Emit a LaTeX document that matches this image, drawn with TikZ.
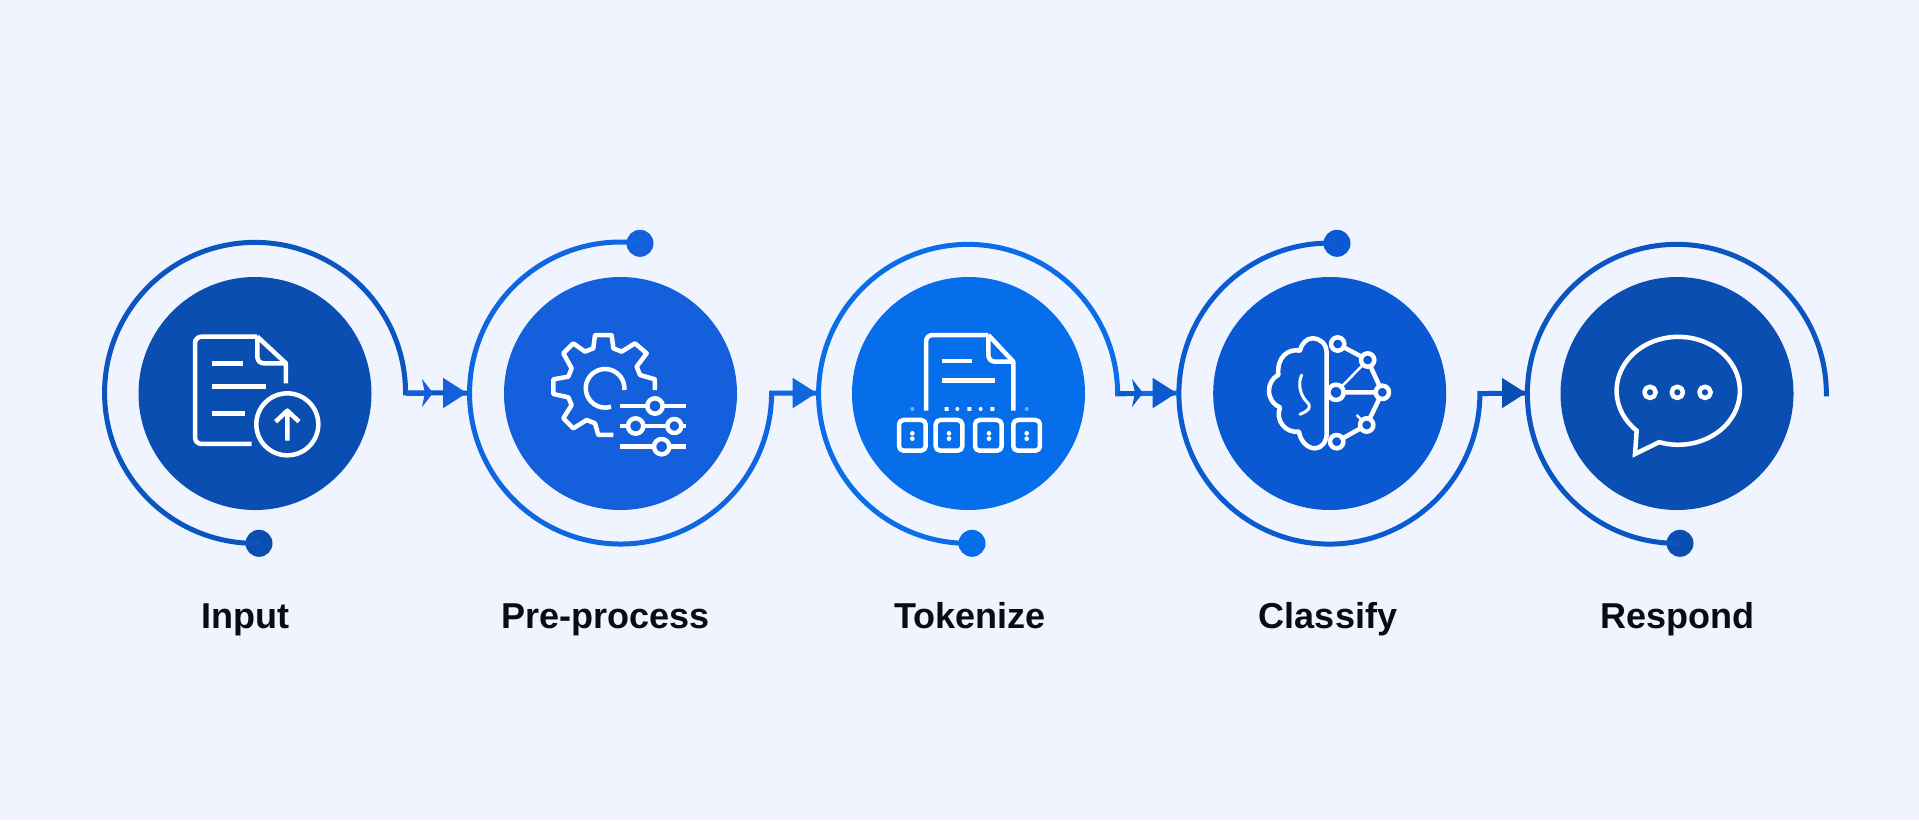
\documentclass[tikz,border=0pt]{standalone}
\usepackage{fontspec}
\setmainfont{Liberation Sans}
\usetikzlibrary{arrows.meta}

\definecolor{pagebg}{HTML}{EFF4FE}
\definecolor{discA}{HTML}{0A4EB2}
\definecolor{discB}{HTML}{1460DC}
\definecolor{discC}{HTML}{066EEA}
\definecolor{discD}{HTML}{0A58D2}
\definecolor{ringA}{HTML}{0B55C0}
\definecolor{ringB}{HTML}{0E66E0}
\definecolor{ringC}{HTML}{0A6EE8}
\definecolor{ringD}{HTML}{0A5AD0}
\definecolor{labelink}{HTML}{080C18}

\tikzset{
    disc/.style={circle, inner sep=0pt, outer sep=0pt, minimum size=233pt},
    knob/.style={circle, inner sep=0pt, outer sep=0pt, minimum size=27pt},
    ring/.style={line width=5pt, line join=miter},
    glyph/.style={draw=white, line width=4.5pt, line join=round},
    steplabel/.style={anchor=base, text=labelink, font=\fontsize{36}{36}\selectfont\bfseries},
    bighead/.style={-{Triangle[length=24pt, width=29pt]}},
    smallhead/.style={-{Stealth[length=11pt, width=28pt, inset=3pt]}},
    zoomed/.style={x=0.3333pt, y=-0.3333pt}
}

\begin{document}
\begin{tikzpicture}[x=1pt, y=-1pt]
        % draw page
        \fill[pagebg] (0, 0) rectangle (1919, 820);
        \useasboundingbox (0, 0) rectangle (1919, 820);
        % draw discs
        \node[disc, fill=discA] (input) at (255, 393.5) {};
        \node[disc, fill=discB] (preprocess) at (620.5, 393.5) {};
        \node[disc, fill=discC] (tokenize) at (968.5, 393.5) {};
        \node[disc, fill=discD] (classify) at (1329.7, 393.5) {};
        \node[disc, fill=discA] (respond) at (1677, 393.5) {};
        % draw knobs at the ring ends
        \node[knob, fill=discA] (knobA) at (259, 543.3) {};
        \node[knob, fill=discB] (knobB) at (640, 243.3) {};
        \node[knob, fill=discC] (knobC) at (972, 543.3) {};
        \node[knob, fill=discD] (knobD) at (1337, 243.3) {};
        \node[knob, fill=discA] (knobE) at (1680, 543.3) {};
        % ring exits and arrow ends
        \coordinate (outA) at (405.5, 393);
        \coordinate (outC) at (1117.7, 393);
        \coordinate (inB) at (467, 393);
        \coordinate (inC) at (816.7, 393);
        \coordinate (inD) at (1176.7, 393);
        \coordinate (inE) at (1526, 393);
        % draw rings with their connectors
        \draw[ring, draw=ringA] (knobA.center) arc (88.5:360:150.5) -- (inB);
        \draw[ring, draw=ringB] (knobB.center) arc (277.4:0:151) -- (inC);
        \draw[ring, draw=ringC] (knobC.center) arc (88.5:360:149.5) -- (inD);
        \draw[ring, draw=ringD] (knobD.center) arc (272.9:0:150.5) -- (inE);
        \draw[ring, draw=ringA] (knobE.center) arc (88.8:361:149.5);
        % draw arrow heads
        \draw[ring, draw=ringA, smallhead, color=discB] (outA) -- ++(27.5, 0);
        \draw[ring, draw=ringA, bighead, color=discB] ([xshift=-4pt]inB) -- (inB);
        \draw[ring, draw=ringB, bighead, color=ringB] ([xshift=-4pt]inC) -- (inC);
        \draw[ring, draw=ringC, smallhead, color=ringD] (outC) -- ++(25.3, 0);
        \draw[ring, draw=ringC, bighead, color=ringD] ([xshift=-4pt]inD) -- (inD);
        \draw[ring, draw=ringD, bighead, color=discA] ([xshift=-4pt]inE) -- (inE);
        % draw document with upload icon
        \begin{scope}[shift={(180, 320)}, zoomed]
            \draw[glyph, rounded corners=6.5pt] (215, 372) -- (45, 372) -- (45, 50) -- (232, 50);
            \draw[glyph] (232, 50) -- (318, 130) -- (318, 190);
            \draw[glyph, rounded corners=6.5pt] (232, 50) -- (232, 130) -- (318, 130);
            \draw[glyph] (95, 130) -- (188, 130) (95, 200) -- (258, 200) (95, 280) -- (195, 280);
            \draw[glyph] (322, 313) circle[radius=93];
            \draw[glyph] (322, 362) -- (322, 272) (287, 305) -- (322, 272) -- (357, 305);
        \end{scope}
        % draw gear with sliders icon
        \begin{scope}[shift={(535, 320)}, zoomed]
            \draw[glyph] (360, 210) -- (360, 178) -- (315, 165) -- (305, 140) -- (335, 100) -- (300, 70) -- (260, 95) -- (235, 85) -- (230, 45) -- (180, 45) -- (175, 85) -- (150, 95) -- (115, 70) -- (85, 100) -- (110, 145) -- (100, 170) -- (55, 178) -- (55, 222) -- (100, 232) -- (110, 255) -- (85, 295) -- (115, 325) -- (155, 300) -- (180, 310) -- (190, 345) -- (235, 345);
            \draw[glyph] (268, 210) arc (5:-288:58);
            \draw[glyph] (255, 258) -- (452, 258) (255, 318) -- (452, 318) (255, 380) -- (452, 380);
            \draw[glyph, fill=discB] (360, 258) circle[radius=23];
            \draw[glyph, fill=discB] (302, 318) circle[radius=23];
            \draw[glyph, fill=discB] (418, 318) circle[radius=21];
            \draw[glyph, fill=discB] (380, 380) circle[radius=23];
        \end{scope}
        % draw document with tokens icon
        \begin{scope}[shift={(895, 320)}, zoomed]
            \draw[glyph, rounded corners=6.5pt] (93, 272) -- (93, 45) -- (280, 45);
            \draw[glyph] (280, 45) -- (355, 125) -- (355, 272);
            \draw[glyph, rounded corners=6.5pt] (280, 45) -- (280, 125) -- (355, 125);
            \draw[glyph] (140, 123) -- (232, 123) (140, 182) -- (300, 182);
            \fill[white] (149, 261) rectangle (161, 273) (217, 261) rectangle (229, 273) (286, 261) rectangle (298, 273);
            \fill[white] (187, 267) circle[radius=6] (257, 267) circle[radius=6];
            \fill[white, opacity=0.45] (52, 267) circle[radius=6] (395, 267) circle[radius=6];
            \foreach \boxleft/\keyx in {12/52, 122/162, 240/282, 355/395} {
                \draw[glyph, rounded corners=4.5pt] (\boxleft, 300) rectangle (\boxleft + 80, 392);
                \fill[white] (\keyx, 340) circle[radius=7] (\keyx, 356) circle[radius=7];
            }
        \end{scope}
        % draw brain with network icon
        \begin{scope}[shift={(1255, 320)}, zoomed]
            \draw[glyph] (215, 100) .. controls (215, 70) and (195, 55) .. (172, 55) .. controls (155, 55) and (140, 70) .. (135, 92) .. controls (100, 85) and (65, 110) .. (70, 165) .. controls (50, 175) and (42, 195) .. (42, 212) .. controls (42, 235) and (55, 255) .. (75, 262) .. controls (60, 300) and (90, 340) .. (132, 335) .. controls (135, 360) and (155, 385) .. (180, 385) .. controls (200, 385) and (215, 365) .. (215, 340) -- cycle;
            \draw[white, line width=3pt, line cap=round] (140, 165) .. controls (128, 190) and (135, 225) .. (155, 245) .. controls (170, 260) and (165, 270) .. (135, 283);
            \draw[glyph] (248, 72) -- (338, 120) -- (382, 217) -- (335, 315) -- (245, 365) (243, 217) -- (382, 217);
            \draw[white, line width=2.5pt] (243, 217) -- (338, 120) (305, 285) -- (335, 315);
            \foreach \hubx/\huby/\hubr in {248/72/20, 338/120/20, 382/217/20, 335/315/20, 245/365/20, 243/217/23} {
                \draw[glyph, fill=discD] (\hubx, \huby) circle[radius=\hubr];
            }
        \end{scope}
        % draw speech bubble icon
        \begin{scope}[shift={(1600, 320)}, zoomed]
            \draw[glyph, line join=miter] (110, 332) arc[start angle=132.4, end angle=468, x radius=185, y radius=162] -- (105, 402) -- cycle;
            \draw[glyph] (150, 217) circle[radius=17] (232, 217) circle[radius=17] (315, 217) circle[radius=17];
        \end{scope}
        % draw labels
        \node[steplabel] (inputlabel) at (245, 628) {Input};
        \node[steplabel] (preprocesslabel) at (605.3, 628) {Pre-process};
        \node[steplabel] (tokenizelabel) at (970.2, 628) {Tokenize};
        \node[steplabel] (classifylabel) at (1328, 628) {Classify};
        \node[steplabel] (respondlabel) at (1677, 628) {Respond};
    \end{tikzpicture}
\end{document}
